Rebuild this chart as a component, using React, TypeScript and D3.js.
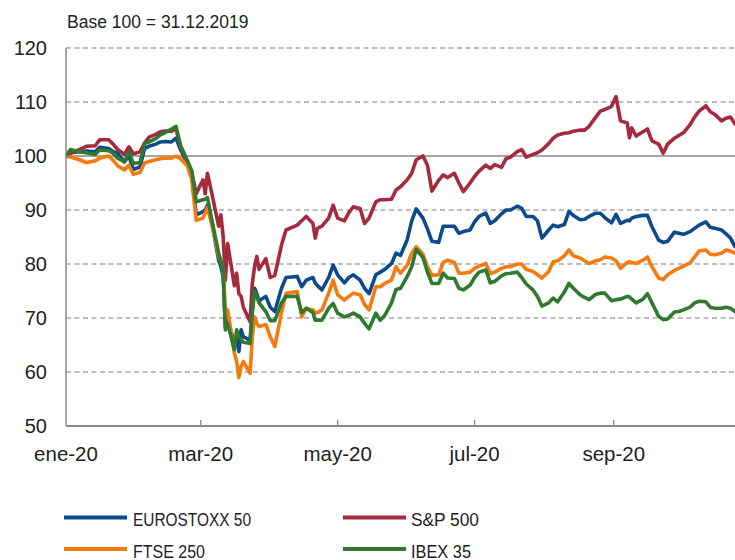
import React from "react";
import * as d3 from "d3";

const dates = [
  "2020-01-01","2020-01-03","2020-01-07","2020-01-10","2020-01-14","2020-01-16","2020-01-20","2020-01-22","2020-01-24","2020-01-27",
  "2020-01-29","2020-01-31","2020-02-03","2020-02-05","2020-02-07","2020-02-10","2020-02-12","2020-02-14","2020-02-17","2020-02-19",
  "2020-02-21","2020-02-24","2020-02-26","2020-02-28","2020-03-02","2020-03-03","2020-03-04","2020-03-06","2020-03-09","2020-03-10",
  "2020-03-11","2020-03-12","2020-03-13","2020-03-16","2020-03-17","2020-03-18","2020-03-19","2020-03-20","2020-03-23","2020-03-24",
  "2020-03-25","2020-03-26","2020-03-27","2020-03-30","2020-04-01","2020-04-03","2020-04-06","2020-04-08","2020-04-13","2020-04-15",
  "2020-04-17","2020-04-20","2020-04-21","2020-04-22","2020-04-24","2020-04-27","2020-04-29","2020-05-01","2020-05-04","2020-05-06",
  "2020-05-08","2020-05-11","2020-05-13","2020-05-15","2020-05-18","2020-05-20","2020-05-22","2020-05-25","2020-05-27","2020-05-29",
  "2020-06-01","2020-06-03","2020-06-05","2020-06-08","2020-06-10","2020-06-12","2020-06-15","2020-06-17","2020-06-19","2020-06-22",
  "2020-06-24","2020-06-26","2020-06-29","2020-07-01","2020-07-03","2020-07-06","2020-07-08","2020-07-10","2020-07-13","2020-07-15",
  "2020-07-17","2020-07-20","2020-07-22","2020-07-24","2020-07-27","2020-07-29","2020-07-31","2020-08-03","2020-08-05","2020-08-07",
  "2020-08-10","2020-08-12","2020-08-14","2020-08-17","2020-08-19","2020-08-21","2020-08-24","2020-08-26","2020-08-28","2020-08-31",
  "2020-09-02","2020-09-04","2020-09-07","2020-09-08","2020-09-09","2020-09-11","2020-09-14","2020-09-16","2020-09-18","2020-09-21",
  "2020-09-23","2020-09-25","2020-09-28","2020-09-30","2020-10-02","2020-10-05","2020-10-07","2020-10-09","2020-10-12","2020-10-14",
  "2020-10-16","2020-10-19","2020-10-21","2020-10-23","2020-10-25",
];

const eurostoxx50 = [
  100,100.6,100.8,100.9,100.8,101.6,101.4,100.8,100.5,98.9,
  100.0,97.5,98.0,101.4,101.8,102.2,102.6,102.7,102.6,103.3,
  101.2,98.6,96.3,89.1,89.7,90.0,90.9,87.6,80.7,79.5,
  77.6,68.4,69.6,65.5,66.5,63.8,67.8,66.5,65.9,71.5,
  75.5,74.5,73.2,74.0,72.0,71.2,75.5,77.5,77.7,75.8,
  77.0,77.5,76.5,76.0,75.2,77.5,79.8,78.0,76.5,77.5,
  78.0,77.0,75.5,74.5,78.0,78.5,79.0,80.1,82.0,81.6,
  84.5,88.0,90.2,88.5,86.5,84.2,84.0,87.0,87.0,87.0,
  85.7,86.0,86.3,87.8,88.8,89.4,87.5,88.0,89.3,90.0,
  90.0,90.7,90.3,88.8,88.8,88.0,84.8,86.3,87.2,86.9,
  87.3,89.7,89.0,88.2,88.3,88.8,89.4,89.4,88.6,87.6,
  89.2,87.5,88.1,88.0,88.5,88.8,89.0,89.0,86.9,84.4,
  84.0,84.2,85.9,85.7,85.5,86.0,86.6,87.2,87.8,86.8,
  86.6,86.3,85.6,84.8,83.2,
];

const sp500 = [
  100,100.5,101.2,101.8,101.9,103.0,103.0,102.2,101.2,100.3,
  101.7,100.4,100.8,102.4,103.5,104.0,104.5,104.6,104.6,105.1,
  101.7,99.0,97.0,93.0,95.6,93.0,96.8,93.0,87.0,89.1,
  85.1,77.0,83.8,76.0,78.3,74.5,74.0,72.0,69.3,76.5,
  79.5,81.4,79.0,81.0,77.5,77.9,83.5,86.3,87.2,88.0,
  88.8,87.5,84.8,86.6,87.0,88.5,90.9,88.5,88.0,89.5,
  90.6,90.3,87.5,88.5,91.5,91.9,91.9,92.0,93.7,94.3,
  95.6,96.8,99.3,100.0,98.3,93.5,95.5,96.5,96.0,96.8,
  95.0,93.4,95.0,96.2,97.2,98.3,97.7,98.4,97.9,99.5,
  99.8,100.8,101.2,99.8,100.3,100.6,101.1,102.3,103.3,103.9,
  104.2,104.3,104.6,104.8,104.8,105.5,107.2,108.3,108.6,109.2,
  111.0,106.5,106.1,103.4,105.2,103.7,104.5,105.0,102.8,102.2,
  100.5,102.2,103.3,103.8,104.3,105.8,107.2,108.3,109.3,108.2,
  107.7,106.5,107.0,107.2,105.9,
];

const ftse250 = [
  100,99.8,99.3,98.8,99.1,99.6,100.0,99.2,98.2,97.4,
  98.3,96.6,97.0,98.7,99.0,99.3,99.5,99.6,99.6,100.0,
  99.5,98.2,95.7,88.1,88.5,89.5,90.5,87.2,81.5,80.5,
  78.9,71.5,71.5,63.5,62.0,59.0,61.0,61.9,59.8,66.5,
  70.2,69.0,68.4,68.8,66.5,64.7,71.0,74.6,74.9,70.2,
  71.8,71.5,70.9,71.0,71.5,74.6,77.0,74.3,73.3,74.0,
  74.6,74.3,72.5,71.5,75.8,75.8,76.4,77.0,79.5,78.3,
  79.8,82.0,83.2,81.8,79.5,77.9,78.0,80.3,80.7,80.3,
  78.3,78.3,78.5,79.2,79.6,80.1,78.2,78.5,79.2,79.5,
  79.5,80.0,80.0,79.0,78.6,78.0,77.4,78.6,80.4,80.6,
  81.5,82.6,81.5,81.1,80.6,80.1,80.6,80.8,81.3,81.1,
  80.6,79.2,80.3,80.4,80.3,80.1,80.7,81.3,79.5,77.4,
  77.1,78.0,78.8,79.2,79.6,80.2,81.3,82.4,82.6,81.8,
  81.7,82.0,82.6,82.4,82.0,
];

const ibex35 = [
  100,101.2,100.8,100.6,100.3,101.1,101.0,100.5,99.6,98.9,
  100.8,98.6,98.8,102.3,102.6,103.2,103.9,104.3,105.0,105.5,
  102.0,99.2,97.3,91.5,91.9,92.0,92.3,88.1,82.0,80.5,
  79.0,67.8,69.0,64.1,67.8,66.5,66.0,65.5,65.3,71.0,
  74.9,74.0,72.8,71.2,69.5,69.5,72.8,74.0,74.0,71.0,
  71.8,71.0,69.6,69.6,69.6,71.8,72.7,70.9,70.2,70.5,
  70.9,70.2,69.0,68.0,70.9,69.6,70.5,72.8,75.3,75.5,
  77.7,79.5,82.7,81.2,78.5,76.4,76.4,78.3,77.4,77.3,
  75.5,75.2,76.1,77.5,78.5,78.9,76.5,76.8,77.8,78.2,
  78.3,78.5,77.5,76.3,75.2,74.0,72.2,72.8,73.7,73.0,
  74.8,76.4,75.5,74.3,73.8,73.4,74.4,74.6,74.6,73.2,
  73.4,73.5,74.0,73.9,73.5,72.8,73.5,74.5,72.8,70.3,
  69.7,69.8,71.1,71.2,71.5,72.0,72.8,73.1,73.0,72.0,
  71.8,71.8,72.0,71.8,71.2,
];

const seriesNames = ["EUROSTOXX 50", "S&P 500", "FTSE 250", "IBEX 35"];
const seriesColors = ["#0d4a8c", "#a52a3d", "#f57a10", "#2f7a30"];
const seriesValues = [eurostoxx50, sp500, ftse250, ibex35];

const yTicks = [50, 60, 70, 80, 90, 100, 110, 120];
const xTickDates = ["2020-01-01", "2020-03-01", "2020-05-01", "2020-07-01", "2020-09-01"];
const xTickLabels = ["ene-20", "mar-20", "may-20", "jul-20", "sep-20"];
const subtitle = "Base 100 = 31.12.2019";

const W = 735;
const H = 560;
const LEFT = 66;
const RIGHT = 735;
const TOP = 48;
const BOTTOM = 426;
const FONT = "'Liberation Sans', Arial, Helvetica, sans-serif";
const NARROW = "'Liberation Sans Narrow', 'Arial Narrow', 'Liberation Sans', sans-serif";

export default function App() {
  const parse = d3.utcParse("%Y-%m-%d");
  const x = d3
    .scaleUtc()
    .domain([parse("2020-01-01") as Date, parse("2020-10-25") as Date])
    .range([LEFT, RIGHT]);
  const y = d3.scaleLinear().domain([50, 120]).range([BOTTOM, TOP]);
  const parsedDates = dates.map((d) => parse(d) as Date);

  const line = d3
    .line<number>()
    .x((_, i) => x(parsedDates[i]))
    .y((v) => y(v))
    .curve(d3.curveLinear);

  const legendItems = [
    { i: 0, lx: 64, ly: 517.5, tx: 133, ty: 526, tw: 118 },
    { i: 1, lx: 343, ly: 517.5, tx: 411, ty: 526, tw: 68 },
    { i: 2, lx: 64, ly: 549, tx: 133, ty: 557.5, tw: 72 },
    { i: 3, lx: 343, ly: 549, tx: 411, ty: 557.5, tw: 60 },
  ];

  return (
    <svg
      width={W}
      height={H}
      style={{ position: "absolute", left: 0, top: 0, background: "#fff" }}
      fontFamily={FONT}
    >
      <defs>
        <clipPath id="plotClip">
          <rect x={LEFT} y={0} width={RIGHT - LEFT} height={BOTTOM} />
        </clipPath>
      </defs>
      <rect x={0} y={0} width={W} height={H} fill="#fff" />

      <text x={67} y={28} fontSize={17.5} fill="#222">
        {subtitle}
      </text>

      {/* grid lines */}
      {yTicks
        .filter((t) => t !== 50 && t !== 100)
        .map((t) => (
          <line
            key={"g" + t}
            x1={LEFT}
            x2={RIGHT}
            y1={y(t)}
            y2={y(t)}
            stroke="#a8a8a8"
            strokeWidth={1.3}
            strokeDasharray="5 3.5"
          />
        ))}
      <line x1={LEFT} x2={RIGHT} y1={y(100)} y2={y(100)} stroke="#888" strokeWidth={1.5} />

      {/* y tick labels */}
      {yTicks.map((t) => (
        <text
          key={"yl" + t}
          x={47}
          y={y(t)}
          dy="0.36em"
          textAnchor="end"
          fontSize={20}
          fill="#222"
        >
          {t}
        </text>
      ))}

      {/* series */}
      <g clipPath="url(#plotClip)">
        {seriesValues.map((vals, i) => (
          <path
            key={"s" + i}
            d={line(vals) || ""}
            fill="none"
            stroke={seriesColors[i]}
            strokeWidth={3.6}
            strokeLinejoin="round"
            strokeLinecap="round"
          />
        ))}
      </g>

      {/* axes */}
      <line x1={LEFT} x2={LEFT} y1={TOP} y2={BOTTOM} stroke="#888" strokeWidth={1.5} />
      <line x1={LEFT} x2={RIGHT} y1={BOTTOM} y2={BOTTOM} stroke="#888" strokeWidth={2} />
      {xTickDates.map((d, i) => {
        const xx = x(parse(d) as Date);
        return (
          <g key={"xt" + i}>
            {i > 0 && (
              <line x1={xx} x2={xx} y1={BOTTOM} y2={BOTTOM - 6} stroke="#888" strokeWidth={1.3} />
            )}
            <text x={xx} y={461} textAnchor="middle" fontSize={20.5} fill="#222">
              {xTickLabels[i]}
            </text>
          </g>
        );
      })}

      {/* legend */}
      {legendItems.map((it) => (
        <g key={"lg" + it.i}>
          <line
            x1={it.lx}
            x2={it.lx + 63}
            y1={it.ly}
            y2={it.ly}
            stroke={seriesColors[it.i]}
            strokeWidth={4}
          />
          <text
            x={it.tx}
            y={it.ty}
            fontSize={19}
            fontFamily={NARROW}
            fill="#222"
            textLength={it.tw}
            lengthAdjust="spacingAndGlyphs"
          >
            {seriesNames[it.i]}
          </text>
        </g>
      ))}
    </svg>
  );
}
